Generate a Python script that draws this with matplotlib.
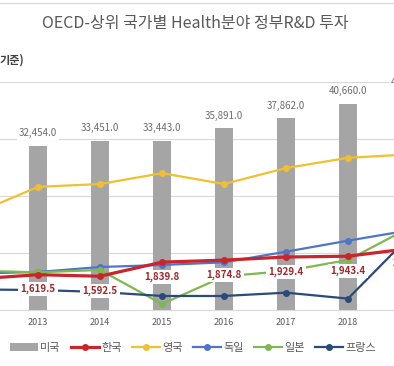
import numpy as np
import matplotlib
matplotlib.use("Agg")
import matplotlib.pyplot as plt
from matplotlib.lines import Line2D

plt.rcParams['font.family'] = ['Noto Sans CJK KR', 'DejaVu Sans']

# ---- data ----
years = [2012, 2013, 2014, 2015, 2016, 2017, 2018, 2019]
us = [np.nan, 32454.0, 33451.0, 33443.0, 35891.0, 37862.0, 40660.0, 42600.0]
korea = [1544.0, 1619.5, 1592.5, 1839.8, 1874.8, 1929.4, 1943.4, 2080.0]
uk = [2700, 3160, 3210, 3400, 3210, 3490, 3670, 3730]
germany = [1640, 1667, 1754, 1790, 1836, 2023, 2216, 2400]
japan = [1690, 1661, 1702, 1105, 1590, 1684, 1877, 2450]
france = [1360, 1351, 1316, 1246, 1246, 1304, 1200, 2300]

series_names = ['미국', '한국', '영국', '독일', '일본', '프랑스']
title = 'OECD-상위 국가별 Health분야 정부R&D 투자'
unit_label = '기준)'

c_us = '#A5A5A5'
c_kr = '#C9252C'
c_uk = '#F0C030'
c_de = '#4E75C8'
c_jp = '#7DB94E'
c_fr = '#2A4A7A'

XMIN, XMAX = 2012.387, 2018.742

fig = plt.figure(figsize=(3.94, 3.66), dpi=100)
ax = fig.add_axes([0, 0.153, 1, 0.623])

# bars (secondary scale in original chart)
bars = ax.bar(years, us, width=0.306, color=c_us, zorder=2, label=series_names[0])
ax.set_ylim(0, 45000)
ax.set_yticks(np.linspace(0, 45000, 5))
ax.yaxis.grid(True, color='#D9D9D9', lw=0.8)
ax.set_axisbelow(True)
for s in ['top', 'left', 'right']:
    ax.spines[s].set_visible(False)
ax.spines['bottom'].set_color('#D9D9D9')
ax.spines['bottom'].set_linewidth(0.8)
vis_years = [y for y in years if XMIN < y < XMAX]
ax.set_xticks(vis_years)
ax.set_xticklabels([str(y) for y in vis_years])
ax.tick_params(axis='x', length=0, labelsize=6.5, labelcolor='#595959', pad=6)
ax.tick_params(axis='y', length=0, labelleft=False)

for xv, v in zip(years, us):
    if np.isnan(v):
        continue
    ax.annotate(f'{v:,.1f}', (xv, v), xytext=(0, 9), textcoords='offset points',
                ha='center', va='center', fontsize=7, color='#6D6D6D',
                bbox=dict(boxstyle='square,pad=0.15', fc='white', ec='none'),
                annotation_clip=False, zorder=5)

# lines (primary scale)
ax2 = ax.twinx()
ax2.set_ylim(1000, 5000)
for s in ['top', 'left', 'right', 'bottom']:
    ax2.spines[s].set_visible(False)
ax2.tick_params(axis='y', length=0, labelright=False)

l_kr, = ax2.plot(years, korea, color=c_kr, lw=2.3, marker='o', ms=4, label=series_names[1], zorder=4)
l_uk, = ax2.plot(years, uk, color=c_uk, lw=1.6, marker='o', ms=4, label=series_names[2], zorder=3)
l_de, = ax2.plot(years, germany, color=c_de, lw=1.6, marker='o', ms=4, label=series_names[3], zorder=3)
l_jp, = ax2.plot(years, japan, color=c_jp, lw=1.6, marker='o', ms=4, label=series_names[4], zorder=3)
l_fr, = ax2.plot(years, france, color=c_fr, lw=1.6, marker='o', ms=4, label=series_names[5], zorder=3)

for xv, v in zip(years, korea):
    if xv == years[0]:
        continue
    ax2.annotate(f'{v:,.1f}', (xv, v), xytext=(0, -10.5), textcoords='offset points',
                 ha='center', va='center', fontsize=7, color='#A0282C', fontweight='bold',
                 bbox=dict(boxstyle='square,pad=0.2', fc='white', ec='none'),
                 annotation_clip=False, zorder=6)

ax.set_xlim(XMIN, XMAX)
ax2.set_xlim(XMIN, XMAX)

fig.text(0.495, 0.935, title, ha='center', va='center', fontsize=11.5, color='#595959')
fig.text(0.0, 0.836, unit_label, ha='left', va='center', fontsize=8, color='#404040', fontweight='bold')

fig.add_artist(Line2D([0, 1], [0.992, 0.992], color='#D9D9D9', lw=0.8, transform=fig.transFigure))

handles = [bars, l_kr, l_uk, l_de, l_jp, l_fr]
fig.legend(handles, series_names, loc='center', bbox_to_anchor=(0.49, 0.049), ncol=6,
           frameon=False, fontsize=8, handlelength=2.5, columnspacing=0.9, handletextpad=0.25,
           labelcolor='#595959')

fig.savefig('out.png', dpi=100)
